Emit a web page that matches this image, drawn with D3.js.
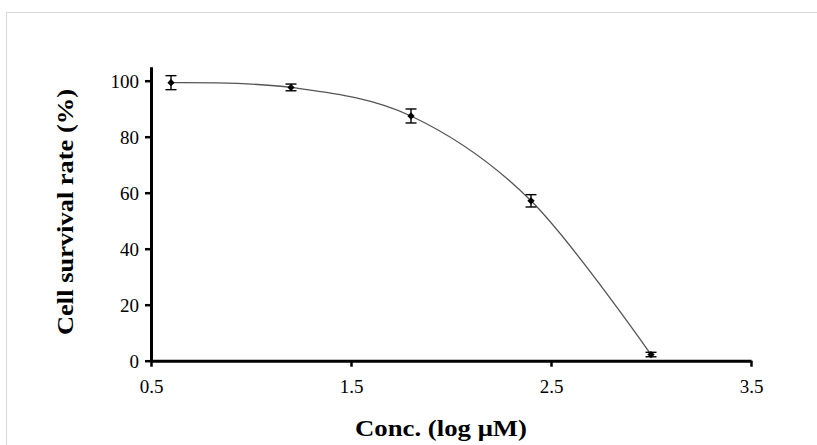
<!DOCTYPE html>
<html>
<head>
<meta charset="utf-8">
<script src="https://cdn.jsdelivr.net/npm/d3@7"></script>
<style>
  body { margin: 0; background: #fff; }
  text { font-family: "Liberation Serif", "Times New Roman", serif; }
</style>
</head>
<body>
<svg id="chart" width="817" height="445"></svg>
<script>
// values
const concLog = [0.6, 1.2, 1.8, 2.4, 3.0];
const survival = [99.3, 97.6, 87.4, 57.1, 2.2];
const errors = [2.5, 1.2, 2.5, 2.2, 0.8];
const xTicks = [0.5, 1.5, 2.5, 3.5];
const yTicks = [0, 20, 40, 60, 80, 100];

const svg = d3.select("#chart");
const width = 817, height = 445;

// light frame round the chart area
svg.append("rect")
    .attr("x", 6.5).attr("y", 12.5)
    .attr("width", width + 10).attr("height", height + 10)
    .attr("fill", "#fff")
    .attr("stroke", "#d9d9d9")
    .attr("stroke-width", 1);

const x = d3.scaleLinear().domain([0.5, 3.5]).range([151, 751]);
const y = d3.scaleLinear().domain([0, 105]).range([360.7, 66.7]);

const xAxis = svg.append("g")
    .attr("transform", `translate(0,${y(0)})`)
    .call(d3.axisBottom(x).tickValues(xTicks).tickFormat(d3.format(".1f")).tickSize(6).tickSizeOuter(0));

const yAxis = svg.append("g")
    .attr("transform", `translate(${x(0.5)},0)`)
    .call(d3.axisLeft(y).tickValues(yTicks).tickSize(6).tickSizeOuter(0));

[xAxis, yAxis].forEach(g => {
    g.select(".domain").attr("stroke", "#000").attr("stroke-width", 3);
    g.selectAll(".tick line").attr("stroke", "#000").attr("stroke-width", 2.5);
    g.selectAll(".tick text")
        .attr("fill", "#000")
        .style("font-family", "'Liberation Serif', 'Times New Roman', serif")
        .style("font-size", "19px");
});
xAxis.selectAll(".tick text").attr("dy", "1.1em").attr("y", 11);
yAxis.selectAll(".tick text").attr("x", -12).attr("dy", "0.35em");

// axis titles
svg.append("text")
    .attr("x", 441).attr("y", 436)
    .attr("text-anchor", "middle")
    .attr("font-weight", "bold")
    .attr("font-size", "23px")
    .attr("textLength", 172)
    .attr("lengthAdjust", "spacingAndGlyphs")
    .text("Conc. (log \u03bcM)");

svg.append("text")
    .attr("transform", "translate(73,212) rotate(-90)")
    .attr("text-anchor", "middle")
    .attr("font-weight", "bold")
    .attr("font-size", "22.5px")
    .attr("textLength", 246)
    .attr("lengthAdjust", "spacingAndGlyphs")
    .text("Cell survival rate (%)");

const points = concLog.map((c, i) => ({ c, s: survival[i], e: errors[i] }));

// smoothed line through the points
const line = d3.line()
    .x(d => x(d.c))
    .y(d => y(d.s))
    .curve(d3.curveCatmullRom.alpha(0));

svg.append("path")
    .datum(points)
    .attr("d", line)
    .attr("fill", "none")
    .attr("stroke", "#555")
    .attr("stroke-width", 1.3);

// error bars
const err = svg.append("g").attr("stroke", "#000").attr("stroke-width", 1.4);
points.forEach(d => {
    const cx = x(d.c);
    err.append("line").attr("x1", cx).attr("x2", cx).attr("y1", y(d.s + d.e)).attr("y2", y(d.s - d.e));
    err.append("line").attr("x1", cx - 5.5).attr("x2", cx + 5.5).attr("y1", y(d.s + d.e)).attr("y2", y(d.s + d.e));
    err.append("line").attr("x1", cx - 5.5).attr("x2", cx + 5.5).attr("y1", y(d.s - d.e)).attr("y2", y(d.s - d.e));
});

// diamond markers
svg.append("g").selectAll("path")
    .data(points)
    .enter()
    .append("path")
    .attr("d", d3.symbol().type(d3.symbolDiamond2).size(34))
    .attr("transform", d => `translate(${x(d.c)},${y(d.s)})`)
    .attr("fill", "#000");
</script>
</body>
</html>
